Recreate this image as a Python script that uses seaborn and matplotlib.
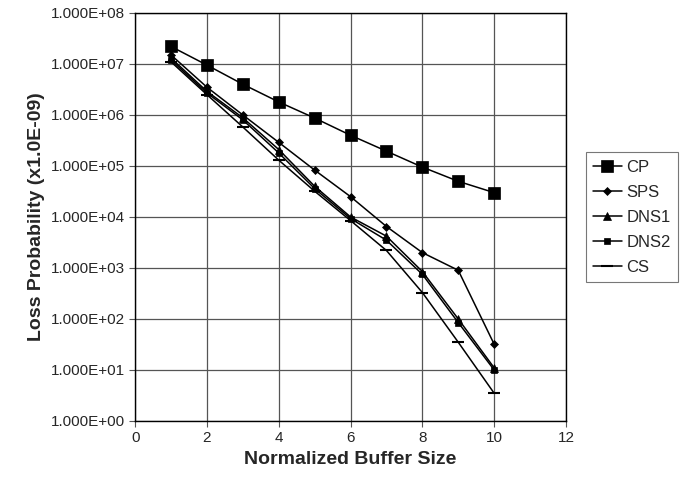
import matplotlib.pyplot as plt
import matplotlib.ticker as mticker
import seaborn as sns
import pandas as pd

buffer_size = [1, 2, 3, 4, 5, 6, 7, 8, 9, 10]
cp = [2.2e7, 9.5e6, 4.0e6, 1.8e6, 8.7e5, 4.0e5, 1.95e5, 9.5e4, 5.0e4, 3.0e4]
sps = [1.5e7, 3.5e6, 1.0e6, 2.9e5, 8.3e4, 2.5e4, 6.5e3, 2.0e3, 9.0e2, 32]
dns1 = [1.3e7, 2.9e6, 8.8e5, 2.1e5, 4.0e4, 1.0e4, 4.2e3, 8.5e2, 100, 11]
dns2 = [1.2e7, 2.7e6, 8.0e5, 1.8e5, 3.6e4, 9.3e3, 3.5e3, 7.5e2, 85, 10]
cs = [1.1e7, 2.5e6, 5.8e5, 1.3e5, 3.2e4, 8.5e3, 2.2e3, 3.3e2, 35, 3.5]

series = {'CP': cp, 'SPS': sps, 'DNS1': dns1, 'DNS2': dns2, 'CS': cs}
df = pd.DataFrame([
    {'buffer': b, 'loss': v, 'scheme': name}
    for name, vals in series.items() for b, v in zip(buffer_size, vals)
])

sns.set_style('white')
plt.rcParams['font.family'] = ['Liberation Sans', 'DejaVu Sans']

fig = plt.figure(figsize=(6.86, 4.8), dpi=100)
ax = fig.add_axes([0.197, 0.123, 0.628, 0.850])

markers = {'CP': 's', 'SPS': 'D', 'DNS1': '^', 'DNS2': 's', 'CS': '_'}
sizes = {'CP': 9, 'SPS': 4.5, 'DNS1': 5.5, 'DNS2': 5, 'CS': 8}
for name in series:
    sns.lineplot(data=df[df['scheme'] == name], x='buffer', y='loss', ax=ax,
                 color='black', lw=1.1, marker=markers[name],
                 markersize=sizes[name], markeredgecolor='black',
                 markeredgewidth=1.5 if name == 'CS' else 0.5, label=name)

ax.set_yscale('log')
ax.set_ylim(1, 1e8)
ax.set_xlim(0, 12)
ax.set_xticks(range(0, 13, 2))
ax.set_yticks([10.0 ** k for k in range(0, 9)])
ax.yaxis.set_major_formatter(mticker.FuncFormatter(lambda v, p: f'{v:.3E}'))
ax.yaxis.set_minor_locator(mticker.NullLocator())
ax.grid(True, color='#555555', lw=0.9)
for s in ax.spines.values():
    s.set_color('black')
    s.set_linewidth(1.0)
ax.tick_params(axis='both', labelsize=11, length=4, direction='out',
               left=True, bottom=True, color='#555555')

ax.set_xlabel('Normalized Buffer Size', fontsize=14, fontweight='bold')
ax.set_ylabel('Loss Probability (x1.0E-09)', fontsize=14, fontweight='bold')

leg = ax.legend(loc='upper left', bbox_to_anchor=(1.046, 0.658), frameon=True,
                fancybox=False, edgecolor='#555555', fontsize=12,
                handlelength=1.7, handletextpad=0.3, labelspacing=0.6,
                borderpad=0.45, borderaxespad=0)
leg.get_frame().set_linewidth(0.8)

fig.savefig('out.png', dpi=100)
